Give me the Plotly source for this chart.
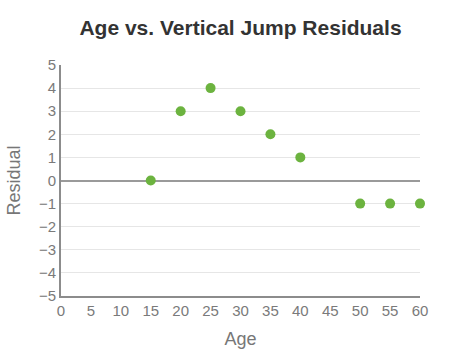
import plotly.graph_objects as go

ages = [15, 20, 25, 30, 35, 40, 50, 55, 60]
residuals = [0, 3, 4, 3, 2, 1, -1, -1, -1]

W, H = 454, 364
L, R, T, B = 61, 34, 65, 68
plot_w = W - L - R

fig = go.Figure()
fig.add_trace(go.Scatter(
    x=ages, y=residuals, mode="markers",
    marker=dict(color="#6cb33f", size=10, line=dict(width=0)),
    showlegend=False, cliponaxis=False,
))

font_family = "Liberation Sans, Arial, sans-serif"
fig.update_layout(
    width=W, height=H,
    margin=dict(l=L, r=R, t=T, b=B),
    paper_bgcolor="white", plot_bgcolor="white",
    font=dict(family=font_family, color="#777777", size=15),
    title=dict(text="<b>Age vs. Vertical Jump Residuals</b>", x=0.5, xref="paper",
               y=1 - 28 / H, yref="container", xanchor="center", yanchor="middle",
               font=dict(size=21, color="#333333")),
)
fig.add_annotation(
    text="Residual", textangle=-90, showarrow=False,
    xref="paper", yref="paper", x=(13 - L) / plot_w, y=0.5,
    xanchor="center", yanchor="middle",
    font=dict(size=18, color="#777777"),
)
fig.update_xaxes(
    range=[0, 60], tickmode="linear", tick0=0, dtick=5,
    showgrid=False, zeroline=False,
    showline=True, linecolor="#8c8c8c", linewidth=2,
    ticks="", tickfont=dict(size=15, color="#7a7a7a"),
    title=dict(text="Age", font=dict(size=18, color="#777777"), standoff=14),
)
fig.update_yaxes(
    range=[-5, 5], tickmode="linear", tick0=-5, dtick=1,
    showgrid=True, gridcolor="#e6e6e6", gridwidth=1,
    zeroline=True, zerolinecolor="#9a9a9a", zerolinewidth=1.5,
    showline=True, linecolor="#8c8c8c", linewidth=2,
    ticks="", tickfont=dict(size=15, color="#7a7a7a"),
    automargin=False,
)

fig.write_html("out.html", config={"displayModeBar": False},
               post_script="document.body.style.margin='0';")
